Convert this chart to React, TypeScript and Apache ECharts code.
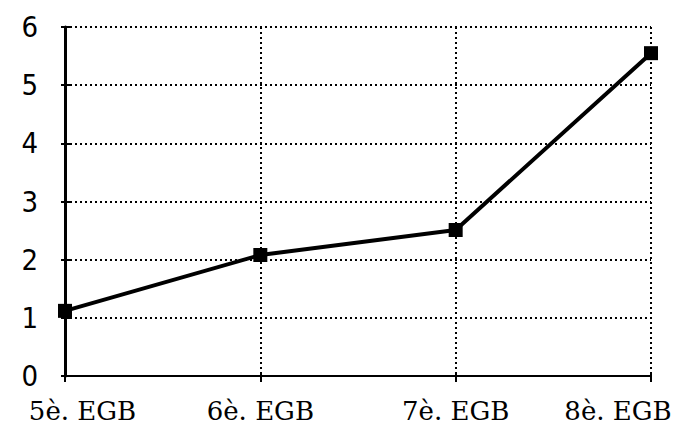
import React, { useEffect, useRef } from "react";
import * as echarts from "echarts";

const categories = ["5è. EGB", "6è. EGB", "7è. EGB", "8è. EGB"];
const values = [1.12, 2.08, 2.51, 5.55];
const yTicks = [0, 1, 2, 3, 4, 5, 6];

export default function App() {
  const ref = useRef<HTMLDivElement>(null);
  useEffect(() => {
    document.body.style.margin = "0";
    const chart = echarts.init(ref.current!, null, { renderer: "svg" });
    const last = categories.length - 1;
    const xFont = "DejaVu Serif";
    const xSize = 26;
    chart.setOption({
      animation: false,
      backgroundColor: "#ffffff",
      grid: { left: 65, right: 37, top: 27, bottom: 51 },
      xAxis: [
        {
          type: "category",
          data: categories,
          boundaryGap: false,
          axisLine: { lineStyle: { color: "#000", width: 2 } },
          axisTick: { show: true, interval: 0, length: 6, lineStyle: { color: "#000", width: 2 } },
          axisLabel: {
            interval: 0,
            hideOverlap: false,
            margin: 22,
            color: "#000",
            fontFamily: xFont,
            fontSize: xSize,
            formatter: (v: string, i: number) =>
              i === 0 ? "{first|" + v + "}" : i === last ? "{lastl|" + v + "}" : "{mid|" + v + "}",
            rich: {
              first: { fontFamily: xFont, fontSize: xSize, color: "#000", padding: [0, 0, 0, 35] },
              mid: { fontFamily: xFont, fontSize: xSize, color: "#000" },
              lastl: { fontFamily: xFont, fontSize: xSize, color: "#000", padding: [0, 66, 0, 0] },
            },
          },
          splitLine: { show: true, interval: 0, lineStyle: { color: "#000", type: [2, 3], width: 2 } },
        },
        {
          type: "category",
          data: categories,
          boundaryGap: false,
          position: "bottom",
          axisLine: { show: false },
          axisTick: { show: true, interval: 0, inside: true, length: 4, lineStyle: { color: "#000", width: 2 } },
          axisLabel: { show: false },
          splitLine: { show: false },
        },
      ],
      yAxis: [
        {
          type: "value",
          min: yTicks[0],
          max: yTicks[yTicks.length - 1],
          interval: 1,
          axisLine: { show: true, lineStyle: { color: "#000", width: 3 } },
          axisTick: { show: true, length: 4, lineStyle: { color: "#000", width: 2 } },
          axisLabel: {
            margin: 27,
            color: "#000",
            fontFamily: "Liberation Sans Narrow, DejaVu Sans Condensed, Liberation Sans",
            fontSize: 29,
            padding: [0, 0, 10, 0],
          },
          splitLine: { show: true, lineStyle: { color: "#000", type: [2, 3], width: 2 } },
        },
        {
          type: "value",
          min: yTicks[0],
          max: yTicks[yTicks.length - 1],
          interval: 1,
          position: "left",
          axisLine: { show: false },
          axisTick: { show: true, inside: true, length: 5, lineStyle: { color: "#000", width: 2 } },
          axisLabel: { show: false },
          splitLine: { show: false },
        },
      ],
      series: [
        {
          type: "line",
          data: values,
          symbol: "rect",
          symbolSize: 14,
          lineStyle: { color: "#000", width: 4 },
          itemStyle: { color: "#000" },
        },
      ],
    });
    return () => chart.dispose();
  }, []);
  return <div ref={ref} style={{ width: 688, height: 427 }} />;
}
